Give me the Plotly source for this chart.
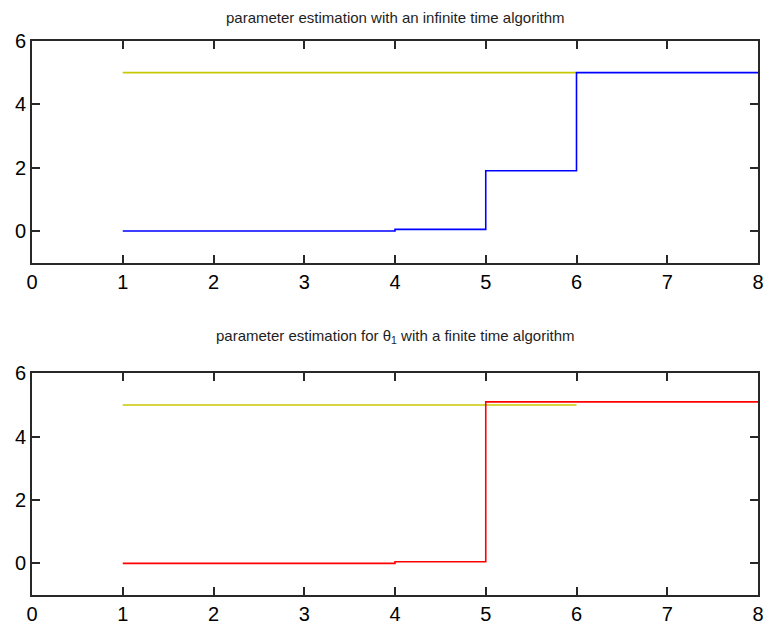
import plotly.graph_objects as go
from plotly.subplots import make_subplots

# data
time_steps = [1, 2, 3, 4, 5, 6, 7, 8]
infinite_estimate = [0, 0, 0, 0.05, 1.9, 5, 5, 5]
finite_estimate = [0, 0, 0, 0.05, 5.1, 5.1, 5.1, 5.1]
true_x = [1, 2, 3, 4, 5, 6]
true_value = [5, 5, 5, 5, 5, 5]
x_ticks = [0, 1, 2, 3, 4, 5, 6, 7, 8]
y_ticks = [0, 2, 4, 6]
titles = ["parameter estimation with an infinite time algorithm",
          "parameter estimation for θ<sub>1</sub> with a finite time algorithm"]

YELLOW = "rgb(200,200,0)"

fig = make_subplots(rows=2, cols=1, vertical_spacing=0.2)

fig.add_trace(go.Scatter(x=true_x, y=true_value, mode="lines",
                         line=dict(color=YELLOW, width=1.6)), row=1, col=1)
fig.add_trace(go.Scatter(x=time_steps, y=infinite_estimate, mode="lines", line_shape="hv",
                         line=dict(color="rgb(0,0,255)", width=1.6)), row=1, col=1)
fig.add_trace(go.Scatter(x=true_x, y=true_value, mode="lines",
                         line=dict(color=YELLOW, width=1.6)), row=2, col=1)
fig.add_trace(go.Scatter(x=time_steps, y=finite_estimate, mode="lines", line_shape="hv",
                         line=dict(color="rgb(255,0,0)", width=1.6)), row=2, col=1)

axis_common = dict(showline=True, linecolor="rgb(40,40,40)", linewidth=2, mirror="ticks",
                   ticks="inside", ticklen=8, tickcolor="rgb(40,40,40)", tickwidth=1.5,
                   showgrid=False, zeroline=False,
                   tickfont=dict(family="Liberation Sans, Arial", size=20, color="black"))

for r, dom in [(1, [0.6, 1.0]), (2, [0.0, 0.4])]:
    fig.update_xaxes(range=[0, 8], tickvals=x_ticks, row=r, col=1, **axis_common)
    fig.update_yaxes(range=[-1, 6], tickvals=y_ticks, domain=dom, row=r, col=1, **axis_common)

fig.update_layout(
    width=773, height=634,
    margin=dict(l=32, r=9, t=41, b=33),
    paper_bgcolor="white", plot_bgcolor="white",
    showlegend=False,
    annotations=[
        dict(text=titles[0], x=0.5, xref="paper", y=1.0, yref="paper", showarrow=False,
             yanchor="bottom", yshift=13),
        dict(text=titles[1], x=0.5, xref="paper", y=0.4, yref="paper", showarrow=False,
             yanchor="bottom", yshift=25),
    ],
    font=dict(family="Liberation Sans, Arial", size=15, color="rgb(30,30,30)"),
)

css_js = (
    "var s=document.createElement('style');"
    "s.textContent='html,body{margin:0;padding:0;overflow:hidden;}"
    ".plotly-graph-div{position:fixed !important;left:0;top:0;}';"
    "document.head.appendChild(s);"
)
fig.write_html("out.html", config={"displayModeBar": False}, post_script=css_js)
